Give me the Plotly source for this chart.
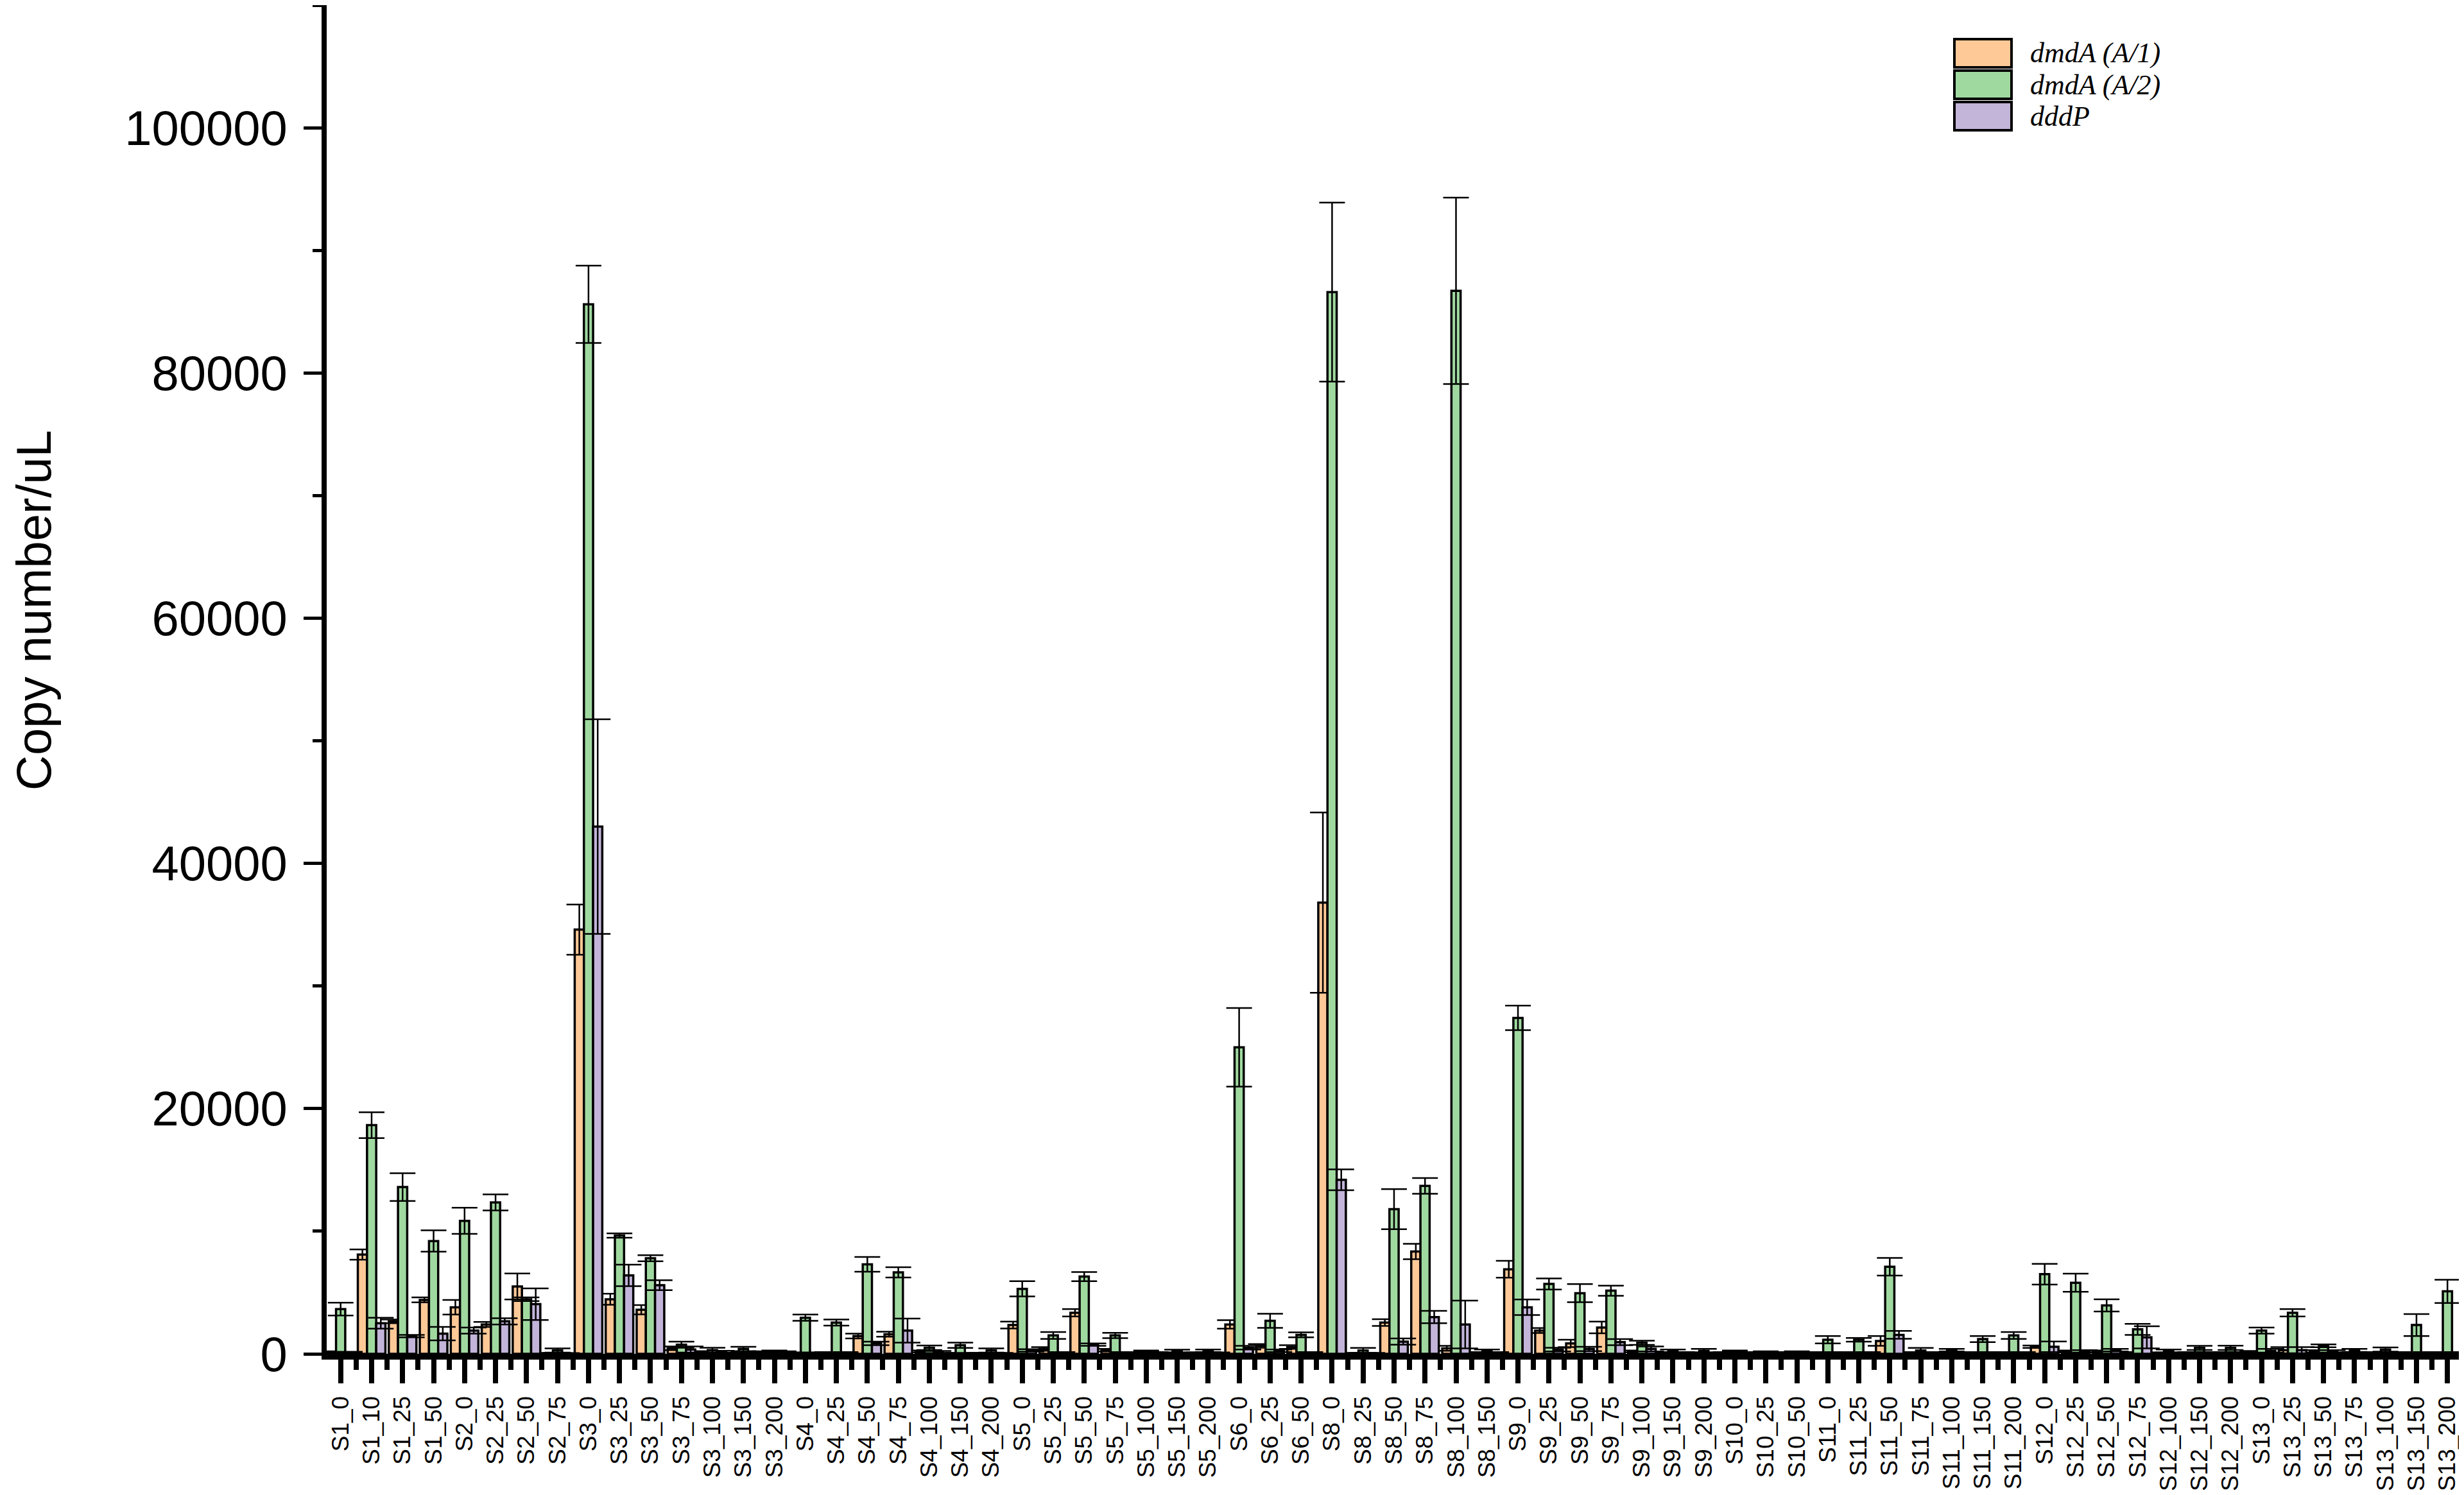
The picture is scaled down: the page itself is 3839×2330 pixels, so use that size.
import plotly.graph_objects as go

# sample names (station_depth)
categories = [
    "S1_0", "S1_10", "S1_25", "S1_50",
    "S2_0", "S2_25", "S2_50", "S2_75",
    "S3_0", "S3_25", "S3_50", "S3_75", "S3_100", "S3_150", "S3_200",
    "S4_0", "S4_25", "S4_50", "S4_75", "S4_100", "S4_150", "S4_200",
    "S5_0", "S5_25", "S5_50", "S5_75", "S5_100", "S5_150", "S5_200",
    "S6_0", "S6_25", "S6_50",
    "S8_0", "S8_25", "S8_50", "S8_75", "S8_100", "S8_150",
    "S9_0", "S9_25", "S9_50", "S9_75", "S9_100", "S9_150", "S9_200",
    "S10_0", "S10_25", "S10_50",
    "S11_0", "S11_25", "S11_50", "S11_75", "S11_100", "S11_150", "S11_200",
    "S12_0", "S12_25", "S12_50", "S12_75", "S12_100", "S12_150", "S12_200",
    "S13_0", "S13_25", "S13_50", "S13_75", "S13_100", "S13_150", "S13_200",
]

# dmdA (A/1)
dmdA_1 = [150, 8100, 2650, 4400, 3800, 2400, 5500, 50,
          34600, 4450, 3600, 450, 120, 50, 150,
          80, 100, 1450, 1600, 200, 50, 50,
          2350, 400, 3350, 300, 100, 80, 80,
          2400, 650, 550,
          36800, 50, 2550, 8350, 450, 100,
          6900, 1900, 850, 2150, 200, 100, 80,
          100, 80, 100,
          100, 100, 1050, 100, 100, 100, 100,
          580, 200, 200, 100, 80, 100, 100,
          150, 300, 200, 80, 100, 100, 100]
dmdA_1_err = [60, 420, 150, 200, 600, 200, 1060, 30,
              2050, 450, 380, 150, 100, 40, 60,
              40, 50, 200, 200, 80, 30, 30,
              280, 150, 300, 100, 50, 40, 40,
              350, 150, 150,
              7350, 30, 280, 630, 200, 50,
              690, 200, 300, 480, 80, 50, 40,
              50, 40, 50,
              50, 50, 400, 50, 50, 50, 50,
              100, 80, 80, 50, 40, 50, 50,
              80, 250, 100, 40, 50, 50, 50]

# dmdA (A/2)
dmdA_2 = [3650, 18650, 13600, 9200, 10850, 12350, 4450, 280,
          85600, 9650, 7800, 750, 300, 400, 200,
          2950, 2550, 7300, 6650, 500, 700, 280,
          5300, 1500, 6300, 1500, 200, 220, 250,
          25000, 2700, 1550,
          86600, 280, 11800, 13700, 86700, 250,
          27400, 5700, 4950, 5150, 900, 250, 250,
          180, 150, 150,
          1150, 1150, 7100, 280, 300, 1200, 1500,
          6500, 5800, 3950, 2000, 230, 490, 490,
          1900, 3350, 650, 280, 350, 2350, 5100]
dmdA_2_err = [520, 1050, 1130, 870, 1070, 650, 150, 170,
              3150, 180, 250, 250, 200, 180, 80,
              250, 250, 600, 420, 180, 220, 170,
              620, 280, 370, 220, 80, 120, 100,
              3200, 575, 200,
              7300, 200, 1630, 640, 7600, 100,
              1000, 450, 740, 410, 170, 100, 150,
              100, 60, 60,
              300, 150, 720, 200, 100, 250, 280,
              845, 740, 500, 450, 120, 170, 180,
              250, 300, 120, 120, 170, 900, 950]

# dddP
dddP = [120, 2500, 1450, 1650, 1900, 2650, 4050, 40,
        43000, 6400, 5600, 350, 150, 50, 150,
        80, 100, 850, 1900, 150, 50, 50,
        280, 100, 750, 100, 100, 80, 80,
        500, 250, 100,
        14200, 50, 1000, 3000, 2400, 100,
        3800, 350, 400, 950, 400, 100, 80,
        100, 80, 100,
        100, 100, 1550, 100, 100, 100, 100,
        580, 200, 300, 1350, 80, 100, 100,
        250, 300, 200, 80, 100, 100, 100]
dddP_err = [50, 450, 100, 550, 250, 250, 1290, 30,
            8750, 880, 400, 250, 100, 40, 60,
            40, 50, 150, 980, 80, 30, 30,
            100, 50, 100, 50, 50, 40, 40,
            150, 100, 50,
            850, 30, 250, 500, 1950, 50,
            630, 150, 180, 250, 200, 50, 40,
            50, 40, 50,
            50, 50, 320, 50, 50, 50, 50,
            430, 100, 100, 900, 40, 50, 50,
            150, 250, 100, 40, 50, 50, 50]

series_names = ["dmdA (A/1)", "dmdA (A/2)", "dddP"]
colors = ["#FFC997", "#A0D9A0", "#C3B4DA"]

W, H = 3839, 2330
L, R, T, B = 501, 0, 0, 228
PW, PH = W - L - R, H - T - B


def px(x, y):
    # pixel position -> paper coordinates
    return (x - L) / PW, (H - B - y) / PH


idx = list(range(len(categories)))

fig = go.Figure()
for name, vals, errs, col in zip(series_names,
                                 [dmdA_1, dmdA_2, dddP],
                                 [dmdA_1_err, dmdA_2_err, dddP_err],
                                 colors):
    fig.add_trace(go.Bar(
        x=idx, y=vals, name=name,
        customdata=categories,
        hovertemplate="%{customdata}<br>%{y}<extra>" + name + "</extra>",
        marker=dict(color=col, line=dict(color="black", width=3.5)),
        error_y=dict(type="data", array=errs, visible=True,
                     color="black", thickness=2.5, width=20),
        showlegend=False,
    ))

# legend drawn by hand (big swatches like the original)
shapes = []
annotations = []
for k, (name, col) in enumerate(zip(series_names, colors)):
    y0 = 53 + 49 * k
    x0p, y0p = px(3037, y0)
    x1p, y1p = px(3126, y0 + 44)
    shapes.append(dict(type="rect", xref="paper", yref="paper",
                       x0=x0p, x1=x1p, y0=y1p, y1=y0p,
                       fillcolor=col, line=dict(color="black", width=4)))
    tx, ty = px(3153, y0 + 22)
    annotations.append(dict(xref="paper", yref="paper", x=tx, y=ty,
                            xanchor="left", yanchor="middle", showarrow=False,
                            text="<i>" + name + "</i>",
                            font=dict(family="Liberation Serif, Times New Roman, serif",
                                      size=44, color="black")))

# y axis title
tx, ty = px(44, 943)
annotations.append(dict(xref="paper", yref="paper", x=tx, y=ty,
                        xanchor="center", yanchor="middle", showarrow=False,
                        textangle=-90, text="Copy number/uL",
                        font=dict(family="Arial, Liberation Sans, sans-serif",
                                  size=76, color="black")))

fig.update_layout(
    width=W, height=H, autosize=False,
    margin=dict(l=L, r=R, t=T, b=B, pad=0),
    paper_bgcolor="white", plot_bgcolor="white",
    barmode="group", bargap=0.11, bargroupgap=0,
    font=dict(family="Arial, Liberation Sans, sans-serif", color="black"),
    shapes=shapes, annotations=annotations,
    showlegend=False,
)

fig.update_xaxes(
    range=[-0.45, 68.7],
    automargin=False,
    tickmode="array", tickvals=idx, ticktext=categories,
    tickangle=-90, tickfont=dict(size=37),
    ticks="outside", ticklen=37, tickwidth=8, tickcolor="black",
    ticklabelstandoff=5,
    minor=dict(ticks="outside", tick0=0.5, dtick=1, ticklen=16,
               tickwidth=8, tickcolor="black"),
    showline=True, linewidth=9, linecolor="black",
    showgrid=False, zeroline=False,
)

fig.update_yaxes(
    range=[0, 110000],
    automargin=False,
    tickmode="array", tickvals=[0, 20000, 40000, 60000, 80000, 100000],
    tickformat="d",
    tickfont=dict(size=76),
    ticks="outside", ticklen=28, tickwidth=5, tickcolor="black",
    ticklabelstandoff=10,
    minor=dict(ticks="outside", tick0=0, dtick=10000, ticklen=14,
               tickwidth=5, tickcolor="black"),
    showline=True, linewidth=8, linecolor="black",
    showgrid=False, zeroline=False,
)

fig.write_html("out.html")
